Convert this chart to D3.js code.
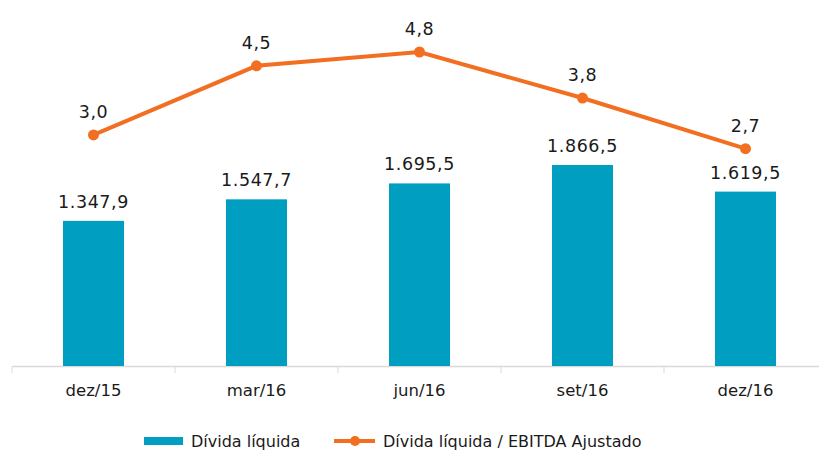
<!DOCTYPE html>
<html>
<head>
<meta charset="utf-8">
<script src="https://cdn.jsdelivr.net/npm/d3@7"></script>
<style>
  body { margin: 0; padding: 0; background: #fff; }
  text { font-family: "DejaVu Sans", sans-serif; fill: #1a1a1a; }
</style>
</head>
<body>
<script>
var categories = ["dez/15", "mar/16", "jun/16", "set/16", "dez/16"];
var divida     = [1347.9, 1547.7, 1695.5, 1866.5, 1619.5];
var ratio      = [3.0, 4.5, 4.8, 3.8, 2.7];
var seriesNames = ["Dívida líquida", "Dívida líquida / EBITDA Ajustado"];

var width = 819, height = 452;
var teal = "#009fc2", orange = "#f26f21";

var fmtBar = function (v) {   // 1.347,9
  var parts = v.toFixed(1).split(".");
  return parts[0].replace(/\B(?=(\d{3})+(?!\d))/g, ".") + "," + parts[1];
};
var fmtRatio = function (v) { return v.toFixed(1).replace(".", ","); };

var svg = d3.select("body").append("svg")
  .attr("width", width)
  .attr("height", height);

var x = d3.scaleBand().domain(categories).range([12, 827]).paddingInner(0).paddingOuter(0);
var yBar = d3.scaleLinear().domain([0, 1866.5]).range([366, 165]);
var yLine = d3.scaleLinear().domain([0, 4.8]).range([273, 52]);

var barW = 61;

// axis
var axis = svg.append("g").attr("transform", "translate(0,366)")
  .call(d3.axisBottom(x).tickSize(0).tickPadding(18));
axis.select(".domain").attr("stroke", "#d9d9d9").attr("stroke-width", 1.3);
axis.selectAll(".tick text").attr("font-size", 16.5).attr("font-family", "DejaVu Sans").attr("fill", "#1a1a1a");
// tick marks between categories
var bounds = categories.map(function (c) { return x(c); });
svg.selectAll(".sep").data(bounds).enter().append("line")
  .attr("x1", function (d) { return d; }).attr("x2", function (d) { return d; })
  .attr("y1", 366).attr("y2", 373)
  .attr("stroke", "#d9d9d9").attr("stroke-width", 1);

// bars
svg.selectAll(".bar").data(divida).enter().append("rect")
  .attr("x", function (d, i) { return x(categories[i]) + x.bandwidth() / 2 - barW / 2; })
  .attr("y", function (d) { return yBar(d); })
  .attr("width", barW)
  .attr("height", function (d) { return 366 - yBar(d); })
  .attr("fill", teal);

svg.selectAll(".barlbl").data(divida).enter().append("text")
  .attr("x", function (d, i) { return x(categories[i]) + x.bandwidth() / 2; })
  .attr("y", function (d) { return yBar(d) - 13; })
  .attr("text-anchor", "middle")
  .attr("font-size", 17.5)
  .attr("letter-spacing", 0.6)
  .text(fmtBar);

// line
var line = d3.line()
  .x(function (d, i) { return x(categories[i]) + x.bandwidth() / 2; })
  .y(function (d) { return yLine(d); });

svg.append("path").datum(ratio)
  .attr("d", line)
  .attr("fill", "none")
  .attr("stroke", orange)
  .attr("stroke-width", 4);

svg.selectAll(".dot").data(ratio).enter().append("circle")
  .attr("cx", function (d, i) { return x(categories[i]) + x.bandwidth() / 2; })
  .attr("cy", function (d) { return yLine(d); })
  .attr("r", 5.5)
  .attr("fill", orange);

svg.selectAll(".linelbl").data(ratio).enter().append("text")
  .attr("x", function (d, i) { return x(categories[i]) + x.bandwidth() / 2; })
  .attr("y", function (d) { return yLine(d) - 17; })
  .attr("text-anchor", "middle")
  .attr("font-size", 17.5)
  .attr("letter-spacing", 0.6)
  .text(fmtRatio);

// legend
var lg = svg.append("g");
lg.append("rect").attr("x", 144).attr("y", 437).attr("width", 39).attr("height", 8).attr("fill", teal);
lg.append("text").attr("x", 191).attr("y", 447).attr("font-size", 16).text(seriesNames[0]);
lg.append("line").attr("x1", 334).attr("x2", 375).attr("y1", 441).attr("y2", 441)
  .attr("stroke", orange).attr("stroke-width", 4);
lg.append("circle").attr("cx", 355).attr("cy", 441).attr("r", 5).attr("fill", orange);
lg.append("text").attr("x", 383).attr("y", 447).attr("font-size", 16).text(seriesNames[1]);
</script>
</body>
</html>
